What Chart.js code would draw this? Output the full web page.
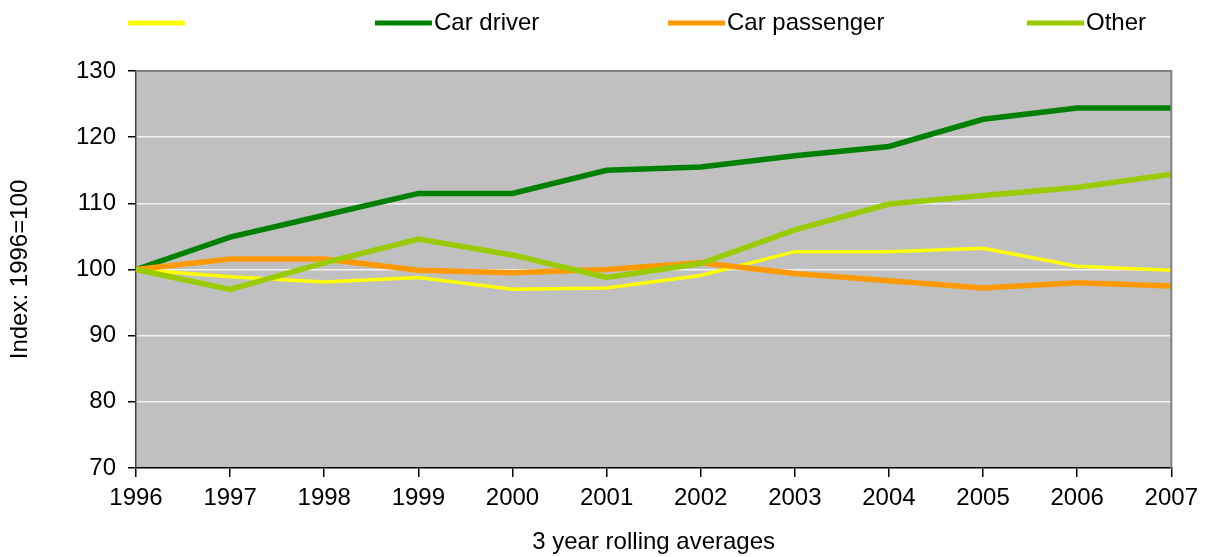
<!DOCTYPE html>
<html>
<head>
<meta charset="utf-8">
<script src="https://cdn.jsdelivr.net/npm/chart.js@4"></script>
<style>
  html, body { margin: 0; padding: 0; background: #fff; }
  #wrap { width: 1205px; height: 557px; }
</style>
</head>
<body>
<div id="wrap"><canvas id="chart"></canvas></div>
<script>
// data
const years = ['1996', '1997', '1998', '1999', '2000', '2001', '2002', '2003', '2004', '2005', '2006', '2007'];
const unlabelled = [100, 98.9, 98.1, 98.8, 97.0, 97.2, 99.1, 102.7, 102.7, 103.2, 100.5, 99.9];
const carDriver = [100, 104.9, 108.2, 111.5, 111.5, 115.0, 115.5, 117.2, 118.6, 122.7, 124.4, 124.4];
const carPassenger = [100, 101.6, 101.6, 99.9, 99.5, 100.0, 101.0, 99.4, 98.3, 97.2, 98.0, 97.5];
const other = [100, 97.0, 101.0, 104.6, 102.2, 98.8, 100.9, 106.0, 109.9, 111.2, 112.4, 114.4];

const FONT = '"Liberation Sans", Arial, sans-serif';
const FS = 24;

// grey plot area + border
const plotBg = {
  id: 'plotBg',
  beforeDraw(chart) {
    const {ctx, chartArea: a} = chart;
    ctx.save();
    ctx.fillStyle = '#c0c0c0';
    ctx.fillRect(a.left, a.top, a.right - a.left, a.bottom - a.top);
    ctx.restore();
  },
  afterDatasetsDraw(chart) {
    const {ctx, chartArea: a} = chart;
    ctx.save();
    ctx.strokeStyle = '#808080';
    ctx.lineWidth = 2;
    ctx.beginPath();
    ctx.moveTo(a.left, a.top);
    ctx.lineTo(a.right, a.top);
    ctx.lineTo(a.right, a.bottom);
    ctx.stroke();
    ctx.restore();
  }
};

// legend spread along the top like the original
const topLegend = {
  id: 'topLegend',
  afterDraw(chart) {
    const ctx = chart.ctx;
    const xs = [128, 375, 668, 1027];
    ctx.save();
    ctx.font = FS + 'px ' + FONT;
    ctx.textBaseline = 'middle';
    ctx.fillStyle = '#000';
    chart.data.datasets.forEach((ds, i) => {
      const x = xs[i];
      ctx.strokeStyle = ds.borderColor;
      ctx.lineWidth = 5;
      ctx.beginPath();
      ctx.moveTo(x, 23);
      ctx.lineTo(x + 57, 23);
      ctx.stroke();
      ctx.fillText(ds.label, x + 59, 23);
    });
    ctx.restore();
  }
};

const ctx = document.getElementById('chart').getContext('2d');
const chart = new Chart(ctx, {
  type: 'line',
  data: {
    labels: years,
    datasets: [
      { label: '', data: unlabelled, borderColor: '#ffff00', borderWidth: 3.5, order: 4 },
      { label: 'Car driver', data: carDriver, borderColor: '#008000', borderWidth: 5.5, order: 3 },
      { label: 'Car passenger', data: carPassenger, borderColor: '#ff9900', borderWidth: 5.5, order: 2 },
      { label: 'Other', data: other, borderColor: '#99cc00', borderWidth: 5.5, order: 1 }
    ]
  },
  options: {
    responsive: true,
    maintainAspectRatio: false,
    animation: false,
    elements: { point: { radius: 0 }, line: { tension: 0 } },
    layout: { padding: { top: 71, right: 33, left: 0, bottom: 0 } },
    plugins: { legend: { display: false }, tooltip: { enabled: false } },
    scales: {
      x: {
        offset: false,
        afterFit(scale) { scale.height = 89; },
        grid: { drawOnChartArea: false, drawTicks: true, tickLength: 9, tickColor: '#000', lineWidth: 1.5 },
        border: { color: '#000', width: 1.5 },
        ticks: { color: '#000', font: { family: FONT, size: FS }, padding: 7, maxRotation: 0, autoSkip: false },
        title: { display: true, text: '3 year rolling averages', color: '#000', font: { family: FONT, size: FS }, padding: { top: 4, bottom: 0 } }
      },
      y: {
        min: 70,
        max: 130,
        afterFit(scale) { scale.width = 136; },
        grid: { color: '#f2f2f2', lineWidth: 1.5, tickLength: 8, tickColor: '#000' },
        border: { color: '#404040', width: 1.5 },
        ticks: { stepSize: 10, color: '#000', font: { family: FONT, size: FS }, padding: 12 },
        title: { display: true, text: 'Index: 1996=100', color: '#000', font: { family: FONT, size: FS }, padding: { top: 6, bottom: 0 } }
      }
    }
  },
  plugins: [plotBg, topLegend]
});
</script>
</body>
</html>
